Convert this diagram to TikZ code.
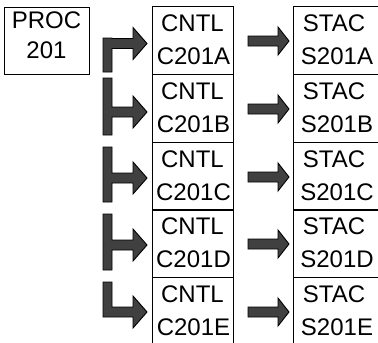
\documentclass[tikz,border=0pt]{standalone}
\usepackage{fontspec}
\setmainfont{Liberation Sans}
\begin{document}
\begin{tikzpicture}[x=1pt,y=-1pt,
  boxline/.style={draw=black,line width=0.8pt},
  txt/.style={anchor=base,inner sep=0pt,font=\fontsize{24}{28}\selectfont},
  blockarrow/.style={draw=black,line width=0.9pt,fill=black!75,line join=miter}]
\useasboundingbox (0,0) rectangle (378,343);
\clip (0,0) rectangle (378,343);
% PROC box
\node[boxline,rectangle,minimum width=85pt,minimum height=67pt,inner sep=0pt] (proc) at (46.5,40.5) {};
\node[txt] (proct1) at (46.5,28) {PROC};
\node[txt] (proct2) at (46.5,58) {201};
% columns
\foreach \t/\l [count=\i] in {6/A,74/B,142/C,209/D,277/E}{
  \node[boxline,rectangle,minimum width=81pt,minimum height=68pt,inner sep=0pt,anchor=north] (cntl\i) at (192.5,\t) {};
  \node[boxline,rectangle,minimum width=95pt,minimum height=68pt,inner sep=0pt,anchor=north west] (stac\i) at (293,\t) {};
  \node[txt] (cntlA\i) at (192.5,\t+25) {CNTL};
  \node[txt] (cntlB\i) at (193.5,\t+58) {C201\l};
  \node[txt] (stacA\i) at (334,\t+25) {STAC};
  \node[txt] (stacB\i) at (337,\t+58) {S201\l};
}
% L-shaped arrows (top, centre, bottom)
\foreach \top/\c/\bot in {38/43.5/72, 78/112/135, 147/178/202, 214/245/270, 282/312/317}{
  \draw[blockarrow] (103,\top) -- (112,\top) -- (112,\c-5) -- (133,\c-5) -- (133,\c-16)
    -- (147,\c) -- (133,\c+16) -- (133,\c+5) -- (112,\c+5) -- (112,\bot) -- (103,\bot) -- cycle;
}
% straight arrows
\foreach \c in {41,109,177,244,312}{
  \draw[blockarrow] (248,\c-5) -- (278,\c-5) -- (278,\c-14) -- (289,\c) -- (278,\c+14)
    -- (278,\c+5) -- (248,\c+5) -- cycle;
}
\end{tikzpicture}
\end{document}
